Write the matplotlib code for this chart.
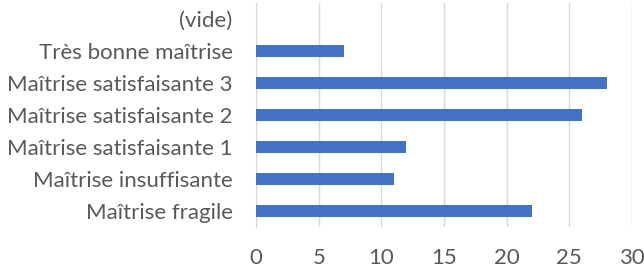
import matplotlib.pyplot as plt

categories = ['Maîtrise fragile', 'Maîtrise insuffisante', 'Maîtrise satisfaisante 1',
              'Maîtrise satisfaisante 2', 'Maîtrise satisfaisante 3',
              'Très bonne maîtrise', '(vide)']
values = [22, 11, 12, 26, 28, 7, 0]
xticks = [0, 5, 10, 15, 20, 25, 30]

plt.rcParams['font.family'] = ['Lato', 'DejaVu Sans']

fig = plt.figure(figsize=(6.44, 2.70), dpi=100)
ax = fig.add_axes([0.398, 0.159, 0.583, 0.83])

ax.barh(range(len(categories)), values, height=0.35, color='#4472C4', zorder=3)
ax.set_yticks(range(len(categories)))
ax.set_yticklabels(categories)
ax.set_ylim(-0.5, len(categories) - 0.5)
ax.set_xlim(0, 30)
ax.set_xticks(xticks)
ax.grid(axis='x', color='#D9D9D9', linewidth=1, zorder=0)
for s in ['top', 'right', 'bottom']:
    ax.spines[s].set_visible(False)
ax.spines['left'].set_color('#D9D9D9')
ax.tick_params(axis='both', length=0, labelsize=16, colors='#595959')
ax.tick_params(axis='x', pad=15)
ax.tick_params(axis='y', pad=17)

fig.savefig('out.png', dpi=100)
